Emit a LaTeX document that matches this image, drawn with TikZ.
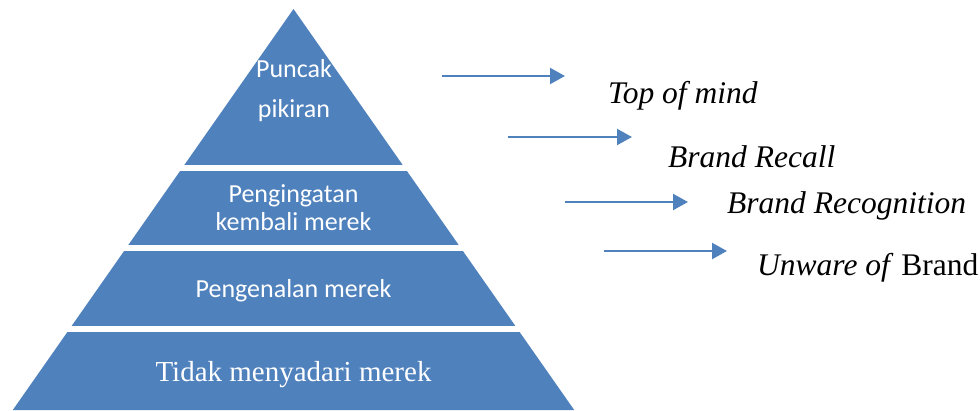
\documentclass[tikz,border=0pt]{standalone}
\usepackage{fontspec}
\setmainfont{Liberation Serif}
\newfontfamily\calibri{Carlito}
\usetikzlibrary{arrows.meta}
\definecolor{pyrblue}{HTML}{4F81BD}

\begin{document}
\begin{tikzpicture}[x=1pt,y=-1pt,
    bandtext/.style={text=white,font=\calibri\fontsize{26}{28}\selectfont,align=center,inner sep=0pt},
    levelname/.style={anchor=base west,inner sep=0pt,font=\fontsize{31.5}{36}\selectfont\itshape},
    levelarrow/.style={draw=pyrblue,line width=2.2pt,-{Triangle[length=15pt,width=16pt]}}]
\useasboundingbox (0,0) rectangle (980,410);
% Pyramid with white gaps between the bands
\fill[pyrblue] (293.5,9) -- (574.2,410) -- (12.8,410) -- cycle;
\foreach \y in {168.2,248.2,328.8} {
    \draw[white,line width=5.5pt] (0,\y) -- (600,\y);
}
% Band labels (base = last line)
\node[bandtext,anchor=base,font=\calibri\fontsize{26}{40}\selectfont] (puncak) at (294,117) {Puncak\\pikiran};
\node[bandtext,anchor=base] (ingat) at (293.5,230) {Pengingatan\\kembali merek};
\node[bandtext,anchor=base] (kenal) at (293.5,297) {Pengenalan merek};
\node[text=white,anchor=base,inner sep=0pt,font=\fontsize{29}{32}\selectfont] (tidak) at (293.5,381) {Tidak menyadari merek};
% Arrows and level names
\foreach \n/\xa/\xb/\y in {1/442/565/76, 2/508/632/137, 3/565/688/202, 4/604/727/251} {
    \coordinate (s\n) at (\xa,\y);
    \coordinate (e\n) at (\xb,\y);
    \draw[levelarrow] (s\n) -- (e\n);
}
\node[levelname] (top) at (608,103) {Top of mind};
\node[levelname] (recall) at (668,167) {Brand Recall};
\node[levelname] (recog) at (727,213) {Brand Recognition};
\node[levelname] (unware) at (757,275) {Unware of\/ \upshape Brand};
\end{tikzpicture}
\end{document}
